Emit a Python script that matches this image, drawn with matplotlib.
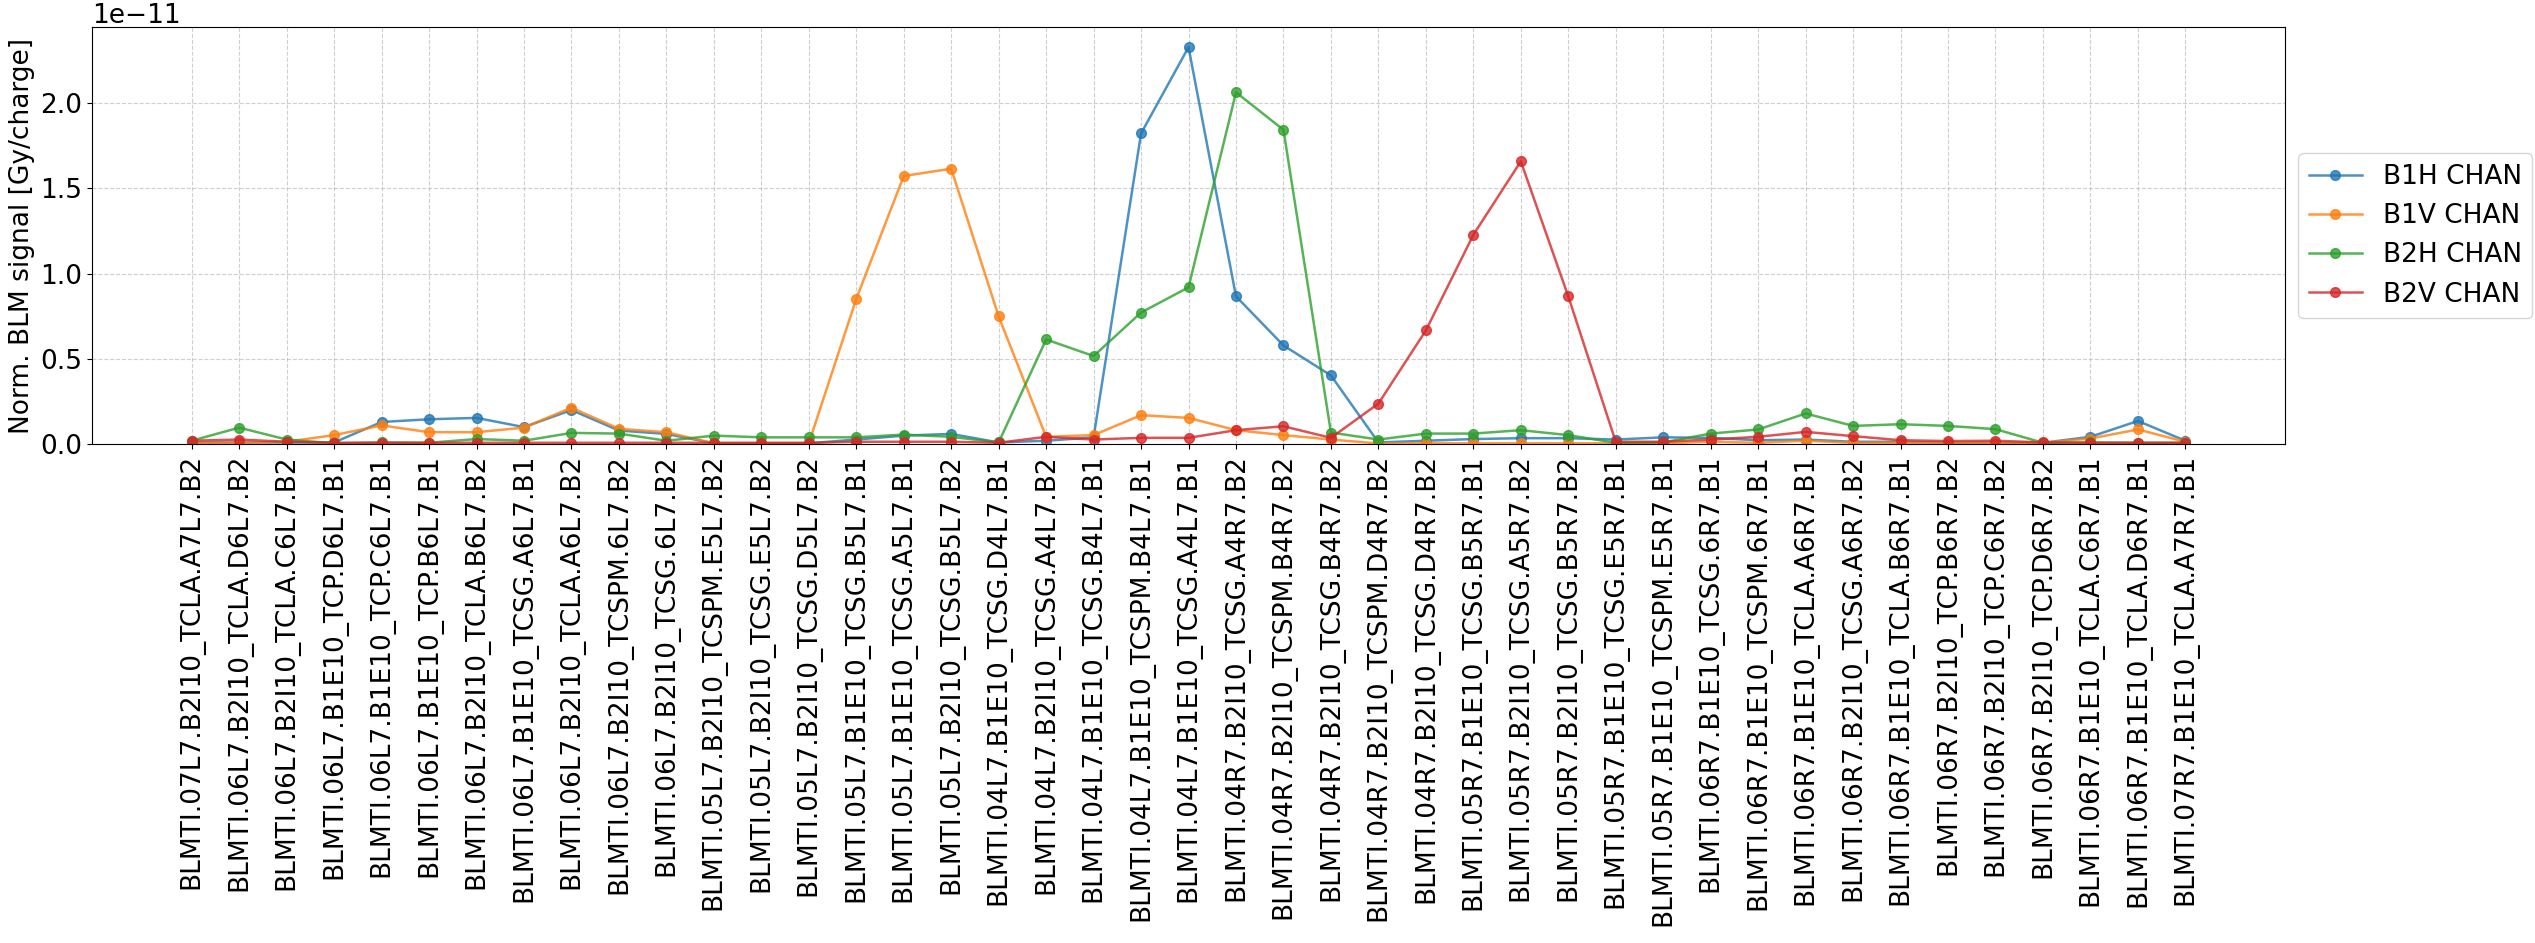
import matplotlib
matplotlib.use("Agg")
import matplotlib.pyplot as plt
import numpy as np

blm_names = [
    "BLMTI.07L7.B2I10_TCLA.A7L7.B2",
    "BLMTI.06L7.B2I10_TCLA.D6L7.B2",
    "BLMTI.06L7.B2I10_TCLA.C6L7.B2",
    "BLMTI.06L7.B1E10_TCP.D6L7.B1",
    "BLMTI.06L7.B1E10_TCP.C6L7.B1",
    "BLMTI.06L7.B1E10_TCP.B6L7.B1",
    "BLMTI.06L7.B2I10_TCLA.B6L7.B2",
    "BLMTI.06L7.B1E10_TCSG.A6L7.B1",
    "BLMTI.06L7.B2I10_TCLA.A6L7.B2",
    "BLMTI.06L7.B2I10_TCSPM.6L7.B2",
    "BLMTI.06L7.B2I10_TCSG.6L7.B2",
    "BLMTI.05L7.B2I10_TCSPM.E5L7.B2",
    "BLMTI.05L7.B2I10_TCSG.E5L7.B2",
    "BLMTI.05L7.B2I10_TCSG.D5L7.B2",
    "BLMTI.05L7.B1E10_TCSG.B5L7.B1",
    "BLMTI.05L7.B1E10_TCSG.A5L7.B1",
    "BLMTI.05L7.B2I10_TCSG.B5L7.B2",
    "BLMTI.04L7.B1E10_TCSG.D4L7.B1",
    "BLMTI.04L7.B2I10_TCSG.A4L7.B2",
    "BLMTI.04L7.B1E10_TCSG.B4L7.B1",
    "BLMTI.04L7.B1E10_TCSPM.B4L7.B1",
    "BLMTI.04L7.B1E10_TCSG.A4L7.B1",
    "BLMTI.04R7.B2I10_TCSG.A4R7.B2",
    "BLMTI.04R7.B2I10_TCSPM.B4R7.B2",
    "BLMTI.04R7.B2I10_TCSG.B4R7.B2",
    "BLMTI.04R7.B2I10_TCSPM.D4R7.B2",
    "BLMTI.04R7.B2I10_TCSG.D4R7.B2",
    "BLMTI.05R7.B1E10_TCSG.B5R7.B1",
    "BLMTI.05R7.B2I10_TCSG.A5R7.B2",
    "BLMTI.05R7.B2I10_TCSG.B5R7.B2",
    "BLMTI.05R7.B1E10_TCSG.E5R7.B1",
    "BLMTI.05R7.B1E10_TCSPM.E5R7.B1",
    "BLMTI.06R7.B1E10_TCSG.6R7.B1",
    "BLMTI.06R7.B1E10_TCSPM.6R7.B1",
    "BLMTI.06R7.B1E10_TCLA.A6R7.B1",
    "BLMTI.06R7.B2I10_TCSG.A6R7.B2",
    "BLMTI.06R7.B1E10_TCLA.B6R7.B1",
    "BLMTI.06R7.B2I10_TCP.B6R7.B2",
    "BLMTI.06R7.B2I10_TCP.C6R7.B2",
    "BLMTI.06R7.B2I10_TCP.D6R7.B2",
    "BLMTI.06R7.B1E10_TCLA.C6R7.B1",
    "BLMTI.06R7.B1E10_TCLA.D6R7.B1",
    "BLMTI.07R7.B1E10_TCLA.A7R7.B1",
]

# values in units of 1e-11 Gy/charge
b1h = [0.010, 0.010, 0.010, 0.010, 0.130, 0.146, 0.154, 0.100, 0.200, 0.080,
       0.060, 0.005, 0.005, 0.005, 0.027, 0.050, 0.060, 0.010, 0.020, 0.040,
       1.823, 2.329, 0.867, 0.579, 0.403, 0.010, 0.020, 0.030, 0.035, 0.035,
       0.027, 0.040, 0.037, 0.023, 0.027, 0.014, 0.014, 0.008, 0.008, 0.008,
       0.043, 0.136, 0.020]
b1v = [0.008, 0.008, 0.014, 0.053, 0.110, 0.070, 0.070, 0.097, 0.214, 0.090,
       0.070, 0.005, 0.005, 0.005, 0.852, 1.573, 1.616, 0.749, 0.043, 0.053,
       0.170, 0.154, 0.082, 0.053, 0.027, 0.004, 0.005, 0.005, 0.005, 0.005,
       0.005, 0.005, 0.014, 0.008, 0.020, 0.008, 0.008, 0.008, 0.008, 0.008,
       0.033, 0.086, 0.014]
b2h = [0.020, 0.097, 0.027, 0.005, 0.010, 0.008, 0.030, 0.020, 0.066, 0.062,
       0.020, 0.050, 0.040, 0.040, 0.040, 0.056, 0.043, 0.010, 0.614, 0.517,
       0.772, 0.920, 2.064, 1.844, 0.068, 0.027, 0.062, 0.062, 0.082, 0.053,
       0.008, 0.010, 0.062, 0.086, 0.180, 0.107, 0.117, 0.107, 0.088, 0.008,
       0.010, 0.008, 0.008]
b2v = [0.020, 0.027, 0.014, 0.008, 0.008, 0.008, 0.008, 0.008, 0.008, 0.008,
       0.008, 0.008, 0.008, 0.008, 0.014, 0.014, 0.014, 0.008, 0.043, 0.027,
       0.037, 0.037, 0.082, 0.105, 0.037, 0.238, 0.667, 1.228, 1.659, 0.867,
       0.014, 0.014, 0.027, 0.043, 0.072, 0.047, 0.023, 0.018, 0.020, 0.010,
       0.008, 0.008, 0.008]

series = {
    "B1H CHAN": b1h,
    "B1V CHAN": b1v,
    "B2H CHAN": b2h,
    "B2V CHAN": b2v,
}

plt.rcParams["font.size"] = 19

fig, ax = plt.subplots(figsize=(25.35, 9.43), dpi=100)
for label, vals in series.items():
    ax.plot(blm_names, np.array(vals) * 1e-11, marker="o", markersize=7,
            linewidth=1.8, alpha=0.8, label=label)

ax.set_ylim(bottom=0)
ax.set_ylabel("Norm. BLM signal [Gy/charge]")
ax.tick_params(axis="x", labelrotation=90)
ax.grid(True, linestyle="--", alpha=0.6)
ax.legend(loc="center left", bbox_to_anchor=(1.0, 0.5))

fig.subplots_adjust(left=0.0363, right=0.9014, top=0.971, bottom=0.529)
fig.savefig("out.png", dpi=100)
